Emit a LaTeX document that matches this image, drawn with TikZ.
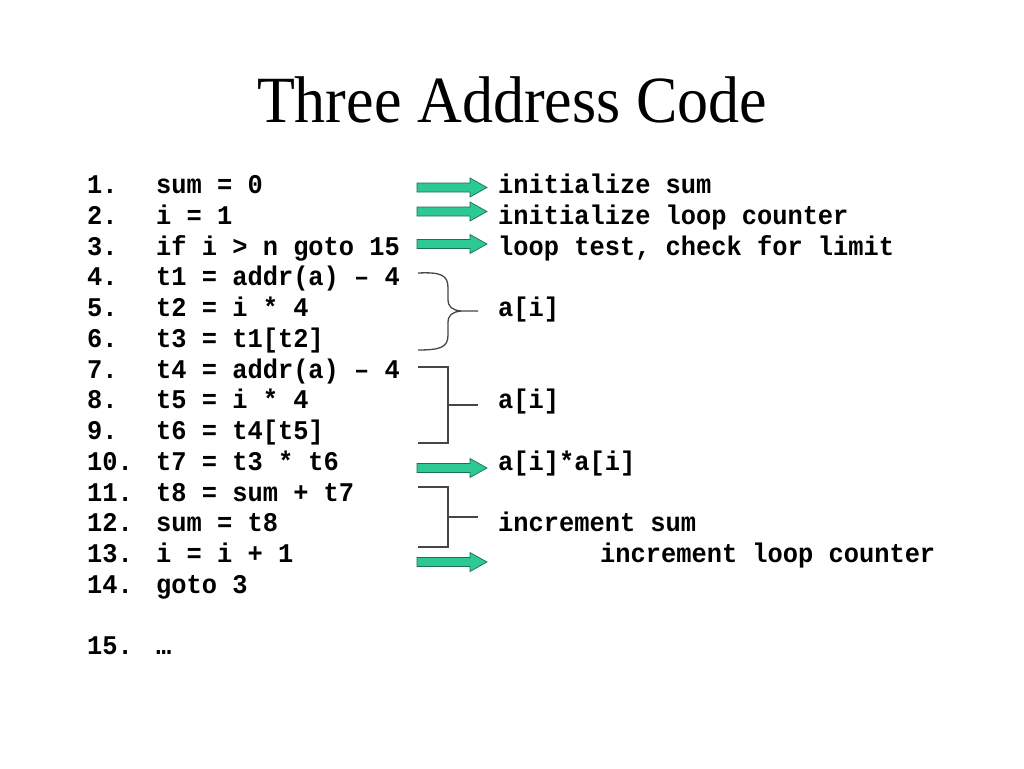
\documentclass[tikz,border=0pt]{standalone}
\usepackage{fontspec}
\usepackage{graphicx}
\setmainfont{Liberation Serif}
\newfontfamily\codefont{Liberation Mono}
\definecolor{arrowgreen}{RGB}{44,200,150}
\definecolor{arrowedge}{RGB}{30,110,85}
\definecolor{brkgray}{RGB}{70,70,70}
\newcommand\sqz[1]{\scalebox{0.94}[1]{#1}}
\tikzset{
  codetxt/.style={anchor=base west, inner sep=0pt, font=\codefont\bfseries\fontsize{27}{30}\selectfont},
  titletxt/.style={anchor=base, inner sep=0pt, font=\fontsize{66}{70}\selectfont},
  garrow/.style={fill=arrowgreen, draw=arrowedge, line width=0.7pt, line join=miter},
  brk/.style={draw=brkgray, line width=1.3pt},
}
\begin{document}
\begin{tikzpicture}[x=1pt,y=-1pt]
\useasboundingbox[fill=white] (0,0) rectangle (1024,768);
\node[titletxt] (title) at (512,122) {\sqz{Three Address Code}};
% line numbers
\node[codetxt] (n1)  at (87,193.5)  {\sqz{1.}};
\node[codetxt] (n2)  at (87,224.25) {\sqz{2.}};
\node[codetxt] (n3)  at (87,255)    {\sqz{3.}};
\node[codetxt] (n4)  at (87,285.75) {\sqz{4.}};
\node[codetxt] (n5)  at (87,316.5)  {\sqz{5.}};
\node[codetxt] (n6)  at (87,347.25) {\sqz{6.}};
\node[codetxt] (n7)  at (87,378)    {\sqz{7.}};
\node[codetxt] (n8)  at (87,408.75) {\sqz{8.}};
\node[codetxt] (n9)  at (87,439.5)  {\sqz{9.}};
\node[codetxt] (n10) at (87,470.25) {\sqz{10.}};
\node[codetxt] (n11) at (87,501)    {\sqz{11.}};
\node[codetxt] (n12) at (87,531.75) {\sqz{12.}};
\node[codetxt] (n13) at (87,562.5)  {\sqz{13.}};
\node[codetxt] (n14) at (87,593.25) {\sqz{14.}};
\node[codetxt] (n15) at (87,654)    {\sqz{15.}};
% code
\node[codetxt] (c1)  at (156,193.5)  {\sqz{sum = 0}};
\node[codetxt] (c2)  at (156,224.25) {\sqz{i = 1}};
\node[codetxt] (c3)  at (156,255)    {\sqz{if i > n goto 15}};
\node[codetxt] (c4)  at (156,285.75) {\sqz{t1 = addr(a) – 4}};
\node[codetxt] (c5)  at (156,316.5)  {\sqz{t2 = i * 4}};
\node[codetxt] (c6)  at (156,347.25) {\sqz{t3 = t1[t2]}};
\node[codetxt] (c7)  at (156,378)    {\sqz{t4 = addr(a) – 4}};
\node[codetxt] (c8)  at (156,408.75) {\sqz{t5 = i * 4}};
\node[codetxt] (c9)  at (156,439.5)  {\sqz{t6 = t4[t5]}};
\node[codetxt] (c10) at (156,470.25) {\sqz{t7 = t3 * t6}};
\node[codetxt] (c11) at (156,501)    {\sqz{t8 = sum + t7}};
\node[codetxt] (c12) at (156,531.75) {\sqz{sum = t8}};
\node[codetxt] (c13) at (156,562.5)  {\sqz{i = i + 1}};
\node[codetxt] (c14) at (156,593.25) {\sqz{goto 3}};
\node[codetxt] (c15) at (156,654)    {\sqz{…}};
% annotations
\node[codetxt] (l1)  at (498,193.5)  {\sqz{initialize sum}};
\node[codetxt] (l2)  at (498,224.25) {\sqz{initialize loop counter}};
\node[codetxt] (l3)  at (498,255)    {\sqz{loop test, check for limit}};
\node[codetxt] (l5)  at (498,316.5)  {\sqz{a[i]}};
\node[codetxt] (l8)  at (498,408.75) {\sqz{a[i]}};
\node[codetxt] (l10) at (498,470.25) {\sqz{a[i]*a[i]}};
\node[codetxt] (l12) at (498,531.75) {\sqz{increment sum}};
\node[codetxt] (l13) at (600,562.5)  {\sqz{increment loop counter}};
% green arrows
\foreach \yy in {187.5,211.5,244,468,562}{
  \draw[garrow] (417,\yy-4.5) -- (470,\yy-4.5) -- (470,\yy-9.5) -- (487,\yy)
     -- (470,\yy+9.5) -- (470,\yy+4.5) -- (417,\yy+4.5) -- cycle;
}
% curly brace (lines 4-6)
\draw[brk] (418,273) .. controls (441,272) and (448,275) .. (448,288) -- (448,299)
   .. controls (448,307) and (452,310) .. (461,311) -- (478,311);
\draw[brk] (461,311) .. controls (452,312) and (448,315) .. (448,323) -- (448,335)
   .. controls (448,347) and (441,350) .. (418,350);
% square bracket (lines 7-9)
\draw[brk] (418,367) -- (448,367) -- (448,443) -- (418,443);
\draw[brk] (448,405) -- (478,405);
% square bracket (lines 11-12)
\draw[brk] (418,487) -- (448,487) -- (448,547) -- (418,547);
\draw[brk] (448,517) -- (478,517);
\end{tikzpicture}
\end{document}
